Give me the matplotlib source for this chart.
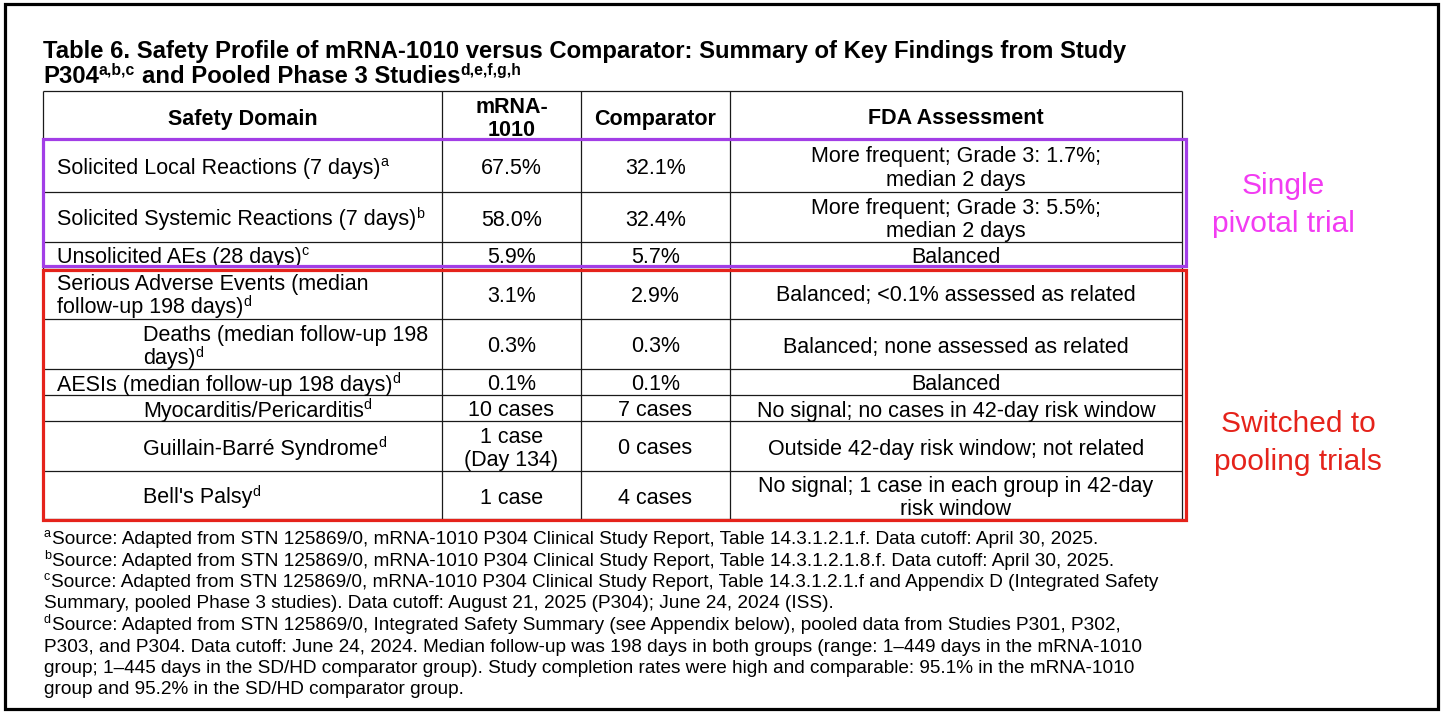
import matplotlib
matplotlib.use("Agg")
import matplotlib.pyplot as plt
from matplotlib.font_manager import FontProperties
from matplotlib.patches import Rectangle

W, H = 1456, 716

FAMILY = ["Liberation Sans", "DejaVu Sans"]
plt.rcParams["font.family"] = FAMILY

# --- table content -------------------------------------------------------
title_line1 = "Table 6. Safety Profile of mRNA-1010 versus Comparator: Summary of Key Findings from Study"
title_line2 = [("P304", False), ("a,b,c", True),
               ("and Pooled Phase 3 Studies", False), ("d,e,f,g,h", True)]
headers = ["Safety Domain", "mRNA-\n1010", "Comparator", "FDA Assessment"]
domains = [
    "Solicited Local Reactions (7 days)",
    "Solicited Systemic Reactions (7 days)",
    "Unsolicited AEs (28 days)",
    "Serious Adverse Events (median\nfollow-up 198 days)",
    "Deaths (median follow-up 198\ndays)",
    "AESIs (median follow-up 198 days)",
    "Myocarditis/Pericarditis",
    "Guillain-Barré Syndrome",
    "Bell's Palsy",
]
domain_notes = ["a", "b", "c", "d", "d", "d", "d", "d", "d"]
indented = [False, False, False, False, True, False, True, True, True]
mrna_1010 = ["67.5%", "58.0%", "5.9%", "3.1%", "0.3%", "0.1%",
             "10 cases", "1 case\n(Day 134)", "1 case"]
comparator = ["32.1%", "32.4%", "5.7%", "2.9%", "0.3%", "0.1%",
              "7 cases", "0 cases", "4 cases"]
assessments = [
    "More frequent; Grade 3: 1.7%;\nmedian 2 days",
    "More frequent; Grade 3: 5.5%;\nmedian 2 days",
    "Balanced",
    "Balanced; <0.1% assessed as related",
    "Balanced; none assessed as related",
    "Balanced",
    "No signal; no cases in 42-day risk window",
    "Outside 42-day risk window; not related",
    "No signal; 1 case in each group in 42-day\nrisk window",
]
footnote_lines = [
    "Source: Adapted from STN 125869/0, mRNA-1010 P304 Clinical Study Report, Table 14.3.1.2.1.f. Data cutoff: April 30, 2025.",
    "Source: Adapted from STN 125869/0, mRNA-1010 P304 Clinical Study Report, Table 14.3.1.2.1.8.f. Data cutoff: April 30, 2025.",
    "Source: Adapted from STN 125869/0, mRNA-1010 P304 Clinical Study Report, Table 14.3.1.2.1.f and Appendix D (Integrated Safety",
    "Summary, pooled Phase 3 studies). Data cutoff: August 21, 2025 (P304); June 24, 2024 (ISS).",
    "Source: Adapted from STN 125869/0, Integrated Safety Summary (see Appendix below), pooled data from Studies P301, P302,",
    "P303, and P304. Data cutoff: June 24, 2024. Median follow-up was 198 days in both groups (range: 1–449 days in the mRNA-1010",
    "group; 1–445 days in the SD/HD comparator group). Study completion rates were high and comparable: 95.1% in the mRNA-1010",
    "group and 95.2% in the SD/HD comparator group.",
]
footnote_marks = ["a", "b", "c", "", "d", "", "", ""]
single_label = "Single\npivotal trial"
pooled_label = "Switched to\npooling trials"

# --- layout (pixels) -----------------------------------------------------
col_edges = [43, 442, 581, 730, 1182]
row_edges = [91, 139, 192, 242, 267, 319, 369, 395, 421, 471, 519]
PURPLE = "#a23ee6"
MAGENTA = "#f23cf2"
RED = "#e5231b"
FS = 15.5
TITLE_FS = 17.2
FOOT_FS = 13.7
SUP_SCALE = 0.66
SUP_RAISE = 0.35
CELL_GAP = 23.5
FOOT_GAP = 21.5
BASE_OFF = 7.5
PX = 100 / 72  # pixels per point

fig = plt.figure(figsize=(W / 100, H / 100), dpi=100)
ax = fig.add_axes([0, 0, 1, 1])
ax.set_xlim(0, W)
ax.set_ylim(H, 0)
ax.axis("off")
renderer = fig.canvas.get_renderer()


def text_width(s, fs, weight="normal"):
    prop = FontProperties(family=FAMILY, size=fs, weight=weight)
    w, _, _ = renderer.get_text_width_height_descent(s, prop, ismath=False)
    return w


def draw_runs(x, y, runs, fs, weight="normal"):
    # runs of (text, is_superscript) laid left to right on one baseline
    prev_sup = False
    for txt, sup in runs:
        if not sup and prev_sup:
            x += 0.278 * fs * PX  # the space that follows a note mark
        size = fs * SUP_SCALE if sup else fs
        yy = y - SUP_RAISE * fs * PX if sup else y
        ax.text(x, yy, txt, fontsize=size, fontweight=weight, ha="left", va="baseline")
        x += text_width(txt, size, weight)
        prev_sup = sup


def cell_lines(x, yc, text, ha="center", weight="normal", mark=""):
    lines = text.split("\n")
    n = len(lines)
    for i, line in enumerate(lines):
        y = yc + (i - (n - 1) / 2) * CELL_GAP + BASE_OFF
        if mark and i == n - 1:
            draw_runs(x, y, [(line, False), (mark, True)], FS, weight)
        else:
            ax.text(x, y, line, fontsize=FS, fontweight=weight, ha=ha, va="baseline")


# outer frame
ax.add_patch(Rectangle((5, 4), 1433, 705, fill=False, lw=2.3, ec="black"))

# title
ax.text(43, 58, title_line1, fontsize=TITLE_FS, fontweight="bold", ha="left", va="baseline")
draw_runs(43, 83, title_line2, TITLE_FS, "bold")

# grid
ax.hlines(row_edges, col_edges[0], col_edges[-1], color="#1a1a1a", lw=0.9)
ax.vlines(col_edges, row_edges[0], row_edges[-1], color="#1a1a1a", lw=0.9)

# header
for c, head in enumerate(headers):
    xc = (col_edges[c] + col_edges[c + 1]) / 2
    cell_lines(xc, (row_edges[0] + row_edges[1]) / 2 + 2, head, weight="bold")

# body
for r in range(len(domains)):
    yc = (row_edges[r + 1] + row_edges[r + 2]) / 2 + 1
    cell_lines(143 if indented[r] else 57, yc, domains[r], ha="left", mark=domain_notes[r])
    for c, vals in ((1, mrna_1010), (2, comparator), (3, assessments)):
        xc = (col_edges[c] + col_edges[c + 1]) / 2
        cell_lines(xc, yc, vals[r])

# highlight boxes
ax.add_patch(Rectangle((43, 139), 1143, 127, fill=False, lw=2.3, ec=PURPLE, zorder=5))
ax.add_patch(Rectangle((43, 270), 1143, 250, fill=False, lw=2.3, ec=RED, zorder=5))

# side annotations
ax.text(1283, 205, single_label, color=MAGENTA, fontsize=21.5,
        ha="center", va="center", linespacing=1.45)
ax.text(1298, 443, pooled_label, color=RED, fontsize=21.5,
        ha="center", va="center", linespacing=1.45)

# footnotes
for i, (mark, line) in enumerate(zip(footnote_marks, footnote_lines)):
    y = 544 + i * FOOT_GAP
    if mark:
        ax.text(44, y - SUP_RAISE * FOOT_FS * PX, mark, fontsize=FOOT_FS * SUP_SCALE,
                ha="left", va="baseline")
        ax.text(44 + text_width(mark, FOOT_FS * SUP_SCALE) + 0.5, y, line,
                fontsize=FOOT_FS, ha="left", va="baseline")
    else:
        ax.text(44, y, line, fontsize=FOOT_FS, ha="left", va="baseline")

fig.savefig("out.png", dpi=100)
